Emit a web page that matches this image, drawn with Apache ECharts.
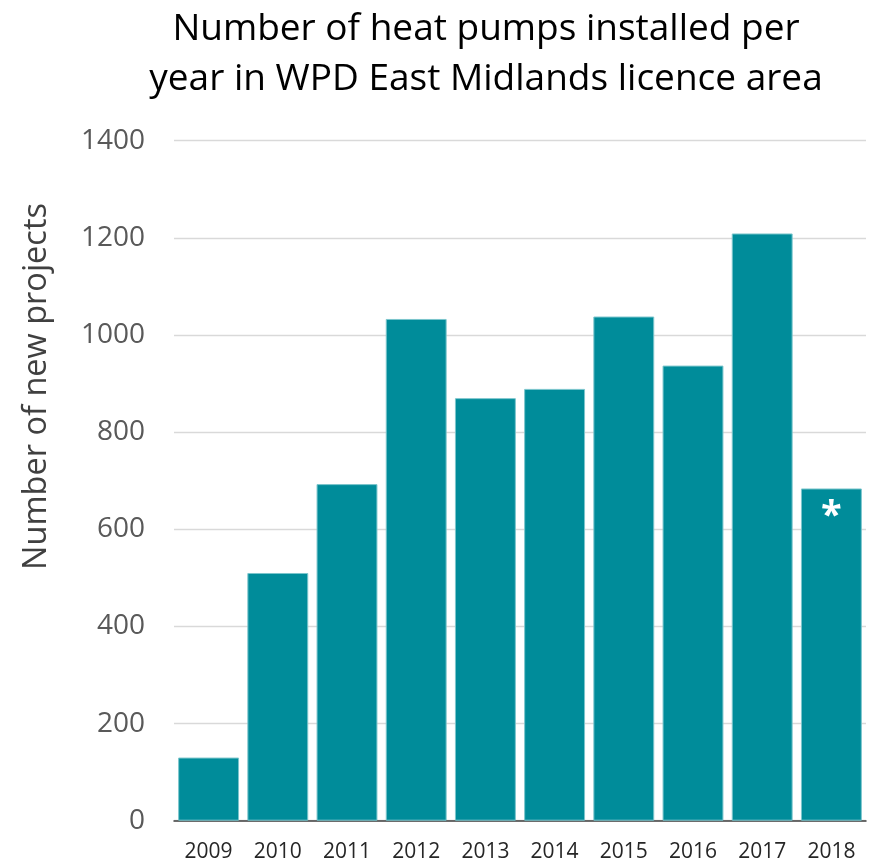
<!DOCTYPE html>
<html><head><meta charset="utf-8">
<script src="https://cdn.jsdelivr.net/npm/echarts@6/dist/echarts.min.js"></script>
<style>html,body{margin:0;padding:0;background:#fff}#c{width:876px;height:864px}</style>
</head><body><div id="c"></div>
<script>
const years = ['2009','2010','2011','2012','2013','2014','2015','2016','2017','2018'];
const installs = [130, 510, 693, 1033, 870, 889, 1038, 937, 1209, 684];
const yTicks = [0, 200, 400, 600, 800, 1000, 1200, 1400];
const titleText = 'Number of heat pumps installed per\nyear in WPD East Midlands licence area';
const yName = 'Number of new projects';
const markIndex = 9;

const chart = echarts.init(document.getElementById('c'));
const font = '"Open Sans", sans-serif';
chart.setOption({
  animation: false,
  title: {
    text: titleText, left: 481, textAlign: 'center', top: -1,
    textStyle: { fontFamily: font, fontSize: 37, fontWeight: 'normal', color: '#000', lineHeight: 50 }
  },
  grid: { left: 174, right: 10, top: 140.7, bottom: 43.3, containLabel: false },
  graphic: [{
    type: 'text', left: 20, top: 203, rotation: Math.PI / 2,
    style: { text: yName, font: '32.5px "Open Sans", sans-serif', fill: '#404040' }
  }],
  xAxis: {
    type: 'category', data: years,
    axisLine: { lineStyle: { color: '#404040', width: 1.5 } },
    axisTick: { show: false },
    axisLabel: { fontFamily: font, fontSize: 21, color: '#262626', margin: 21 }
  },
  yAxis: {
    type: 'value', min: yTicks[0], max: yTicks[yTicks.length - 1], interval: 200,
    axisLine: { show: false }, axisTick: { show: false },
    splitLine: { lineStyle: { color: '#d9d9d9', width: 1.3 } },
    axisLabel: { fontFamily: font, fontSize: 28, color: '#595959', margin: 29, formatter: v => String(v) }
  },
  series: [{
    type: 'bar', barCategoryGap: '12%',
    data: installs.map((v, i) => i === markIndex ? {
      value: v,
      label: { show: true, position: 'insideTop', distance: 10, formatter: '*', color: '#fff', fontFamily: font, fontSize: 38, fontWeight: 'bold' }
    } : v),
    itemStyle: { color: '#008c9a', borderColor: '#7cc6cd', borderWidth: 1 }
  }]
});
</script></body></html>
